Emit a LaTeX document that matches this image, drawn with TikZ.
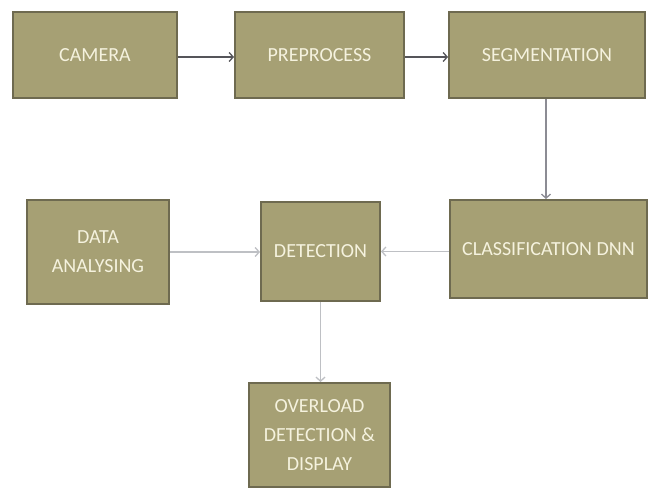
\documentclass[tikz,border=0pt]{standalone}
\usepackage{fontspec}
\setmainfont{Carlito}
\usetikzlibrary{arrows.meta}
\definecolor{boxfill}{RGB}{166,160,116}
\definecolor{boxedge}{RGB}{110,106,80}
\definecolor{boxtext}{RGB}{245,242,222}
\definecolor{darkline}{RGB}{85,85,90}
\definecolor{midline}{RGB}{140,140,148}
\definecolor{paleline}{RGB}{190,192,196}
\tikzset{
  stage/.style={draw=boxedge, line width=2pt, fill=boxfill, text=boxtext,
    inner sep=0pt, align=center,
    font=\fontsize{20}{29}\selectfont},
  flow/.style={line width=1.3pt, -{Straight Barb[length=4pt,width=9pt]}},
}
\begin{document}
\begin{tikzpicture}[x=1pt,y=-1pt]
  \useasboundingbox (0,0) rectangle (663,489);
  \fill[white] (0,0) rectangle (663,489);

  % first row
  \node[stage, minimum width=164pt, minimum height=86pt] (cam) at (95,55) {CAMERA};
  \node[stage, minimum width=169pt, minimum height=86pt] (pre) at (319.5,55) {PREPROCESS};
  \node[stage, minimum width=196pt, minimum height=86pt] (seg) at (547,55) {SEGMENTATION};

  % second row
  \node[stage, minimum width=142pt, minimum height=104pt] (data) at (98,252) {DATA\\ANALYSING};
  \node[stage, minimum width=119pt, minimum height=99pt] (det) at (320.5,251.5) {DETECTION};
  \node[stage, minimum width=197pt, minimum height=98pt] (cls) at (548.5,249) {CLASSIFICATION DNN};

  % output
  \node[stage, minimum width=141pt, minimum height=104pt] (out) at (319.5,435) {OVERLOAD\\DETECTION \&\\DISPLAY};

  % connectors
  \draw[flow, darkline] ([yshift=-2pt]cam.east) -- ([yshift=-2pt]pre.west);
  \draw[flow, darkline] ([yshift=-2pt]pre.east) -- ([yshift=-2pt]seg.west);
  \draw[flow, midline] ([xshift=-1pt]seg.south) -- ([xshift=-1pt]seg.south |- cls.north);
  \draw[flow, paleline] (data.east) -- (data.east -| det.west);
  \draw[flow, paleline] ([yshift=-2.5pt]cls.west) -- ([yshift=-2.5pt]cls.west -| det.east);
  \draw[flow, paleline] (det.south) -- (det.south |- out.north);
\end{tikzpicture}
\end{document}
